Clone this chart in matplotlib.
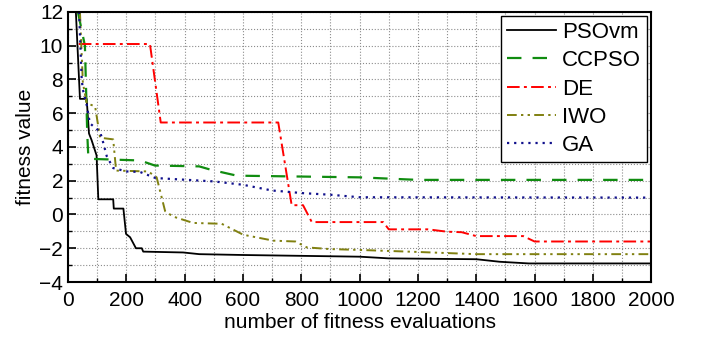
import numpy as np
import matplotlib
matplotlib.use('Agg')
import matplotlib.pyplot as plt
from matplotlib.ticker import MultipleLocator

plt.rcParams['font.family'] = ['Liberation Sans', 'DejaVu Sans']

# PSOvm
pso_x = [27, 41, 64, 72, 81, 98, 104, 155, 157, 190, 199, 213, 233, 253, 258, 395, 450, 600, 800,
         1000, 1100, 1400, 1480, 1580, 2000]
pso_y = [12, 6.85, 6.85, 4.8, 4.4, 3.5, 0.9, 0.9, 0.35, 0.35, -1.15, -1.35, -2.0, -2.0, -2.2, -2.25, -2.35,
         -2.4, -2.45, -2.5, -2.6, -2.65, -2.8, -2.9, -2.9]

# CCPSO
cc_x = [34, 58, 66, 70, 247, 298, 450, 490, 579, 1000, 1200, 2000]
cc_y = [12, 10, 4.8, 3.3, 3.2, 2.9, 2.85, 2.65, 2.3, 2.2, 2.05, 2.05]

# DE
de_x = [37, 281, 318, 721, 767, 806, 836, 1081, 1100, 1235, 1300, 1350, 1400, 1561, 1600, 2000]
de_y = [10.1, 10.1, 5.45, 5.45, 0.55, 0.55, -0.45, -0.45, -0.88, -0.88, -1.02, -1.05, -1.28, -1.28, -1.6, -1.6]

# IWO
iwo_x = [41, 51, 64, 93, 110, 155, 165, 275, 304, 333, 360, 429, 527, 601, 704, 780, 819, 899,
         1000, 1200, 1400, 2000]
iwo_y = [12, 7.8, 6.6, 6.4, 4.55, 4.45, 2.6, 2.55, 2.2, 0.2, -0.12, -0.5, -0.55, -1.2, -1.55, -1.6, -1.95,
         -2.05, -2.1, -2.22, -2.35, -2.35]

# GA
ga_x = [38, 47, 51, 64, 75, 110, 121, 133, 155, 201, 247, 300, 400, 500, 600, 700, 750, 800, 900, 1000, 2000]
ga_y = [12, 8.0, 7.4, 6.5, 5.4, 4.9, 4.24, 3.45, 2.75, 2.55, 2.52, 2.16, 2.06, 1.96, 1.76, 1.42, 1.35,
        1.27, 1.17, 1.02, 1.0]

fig = plt.figure(figsize=(7.01, 3.41), dpi=100)
ax = fig.add_axes([0.097, 0.173, 0.832, 0.792])

ax.plot(pso_x, pso_y, '-', color='black', lw=1.3, label='PSOvm')
ax.plot(cc_x, cc_y, '--', color='#108c10', lw=1.6, dashes=(6.5, 5), label='CCPSO')
ax.plot(de_x, de_y, '-.', color='red', lw=1.4, dashes=(6.5, 2.2, 1.5, 2.2), label='DE')
ax.plot(iwo_x, iwo_y, color='#808010', lw=1.4, dashes=(5, 2.2, 1.2, 2.2, 1.2, 2.2), label='IWO')
ax.plot(ga_x, ga_y, ':', color='#10108c', lw=1.6, dashes=(1, 2.2), label='GA')

ax.set_xlim(0, 2000)
ax.set_ylim(-4, 12)
ax.xaxis.set_major_locator(MultipleLocator(200))
ax.xaxis.set_minor_locator(MultipleLocator(100))
ax.yaxis.set_major_locator(MultipleLocator(2))
ax.yaxis.set_minor_locator(MultipleLocator(1))
ax.grid(True, which='both', linestyle=':', color='#8c8c8c', lw=0.8)
ax.tick_params(which='both', direction='in', labelsize=15, top=False, right=False)
ax.tick_params(axis='x', which='major', pad=6.5)
ax.tick_params(which='major', length=6, width=1.2)
ax.tick_params(which='minor', length=3, width=1.0)
for s in ax.spines.values():
    s.set_linewidth(1.5)

ax.set_xlabel('number of fitness evaluations', fontsize=15, labelpad=2)
ax.set_ylabel('fitness value', fontsize=15, labelpad=3)

leg = ax.legend(loc='upper right', fontsize=16, handlelength=2.2, fancybox=False,
                edgecolor='black', framealpha=1, borderpad=0.25, labelspacing=0.33,
                handletextpad=0.3, borderaxespad=0.2)
leg.get_frame().set_linewidth(1.0)

fig.savefig('out.png', dpi=100)
